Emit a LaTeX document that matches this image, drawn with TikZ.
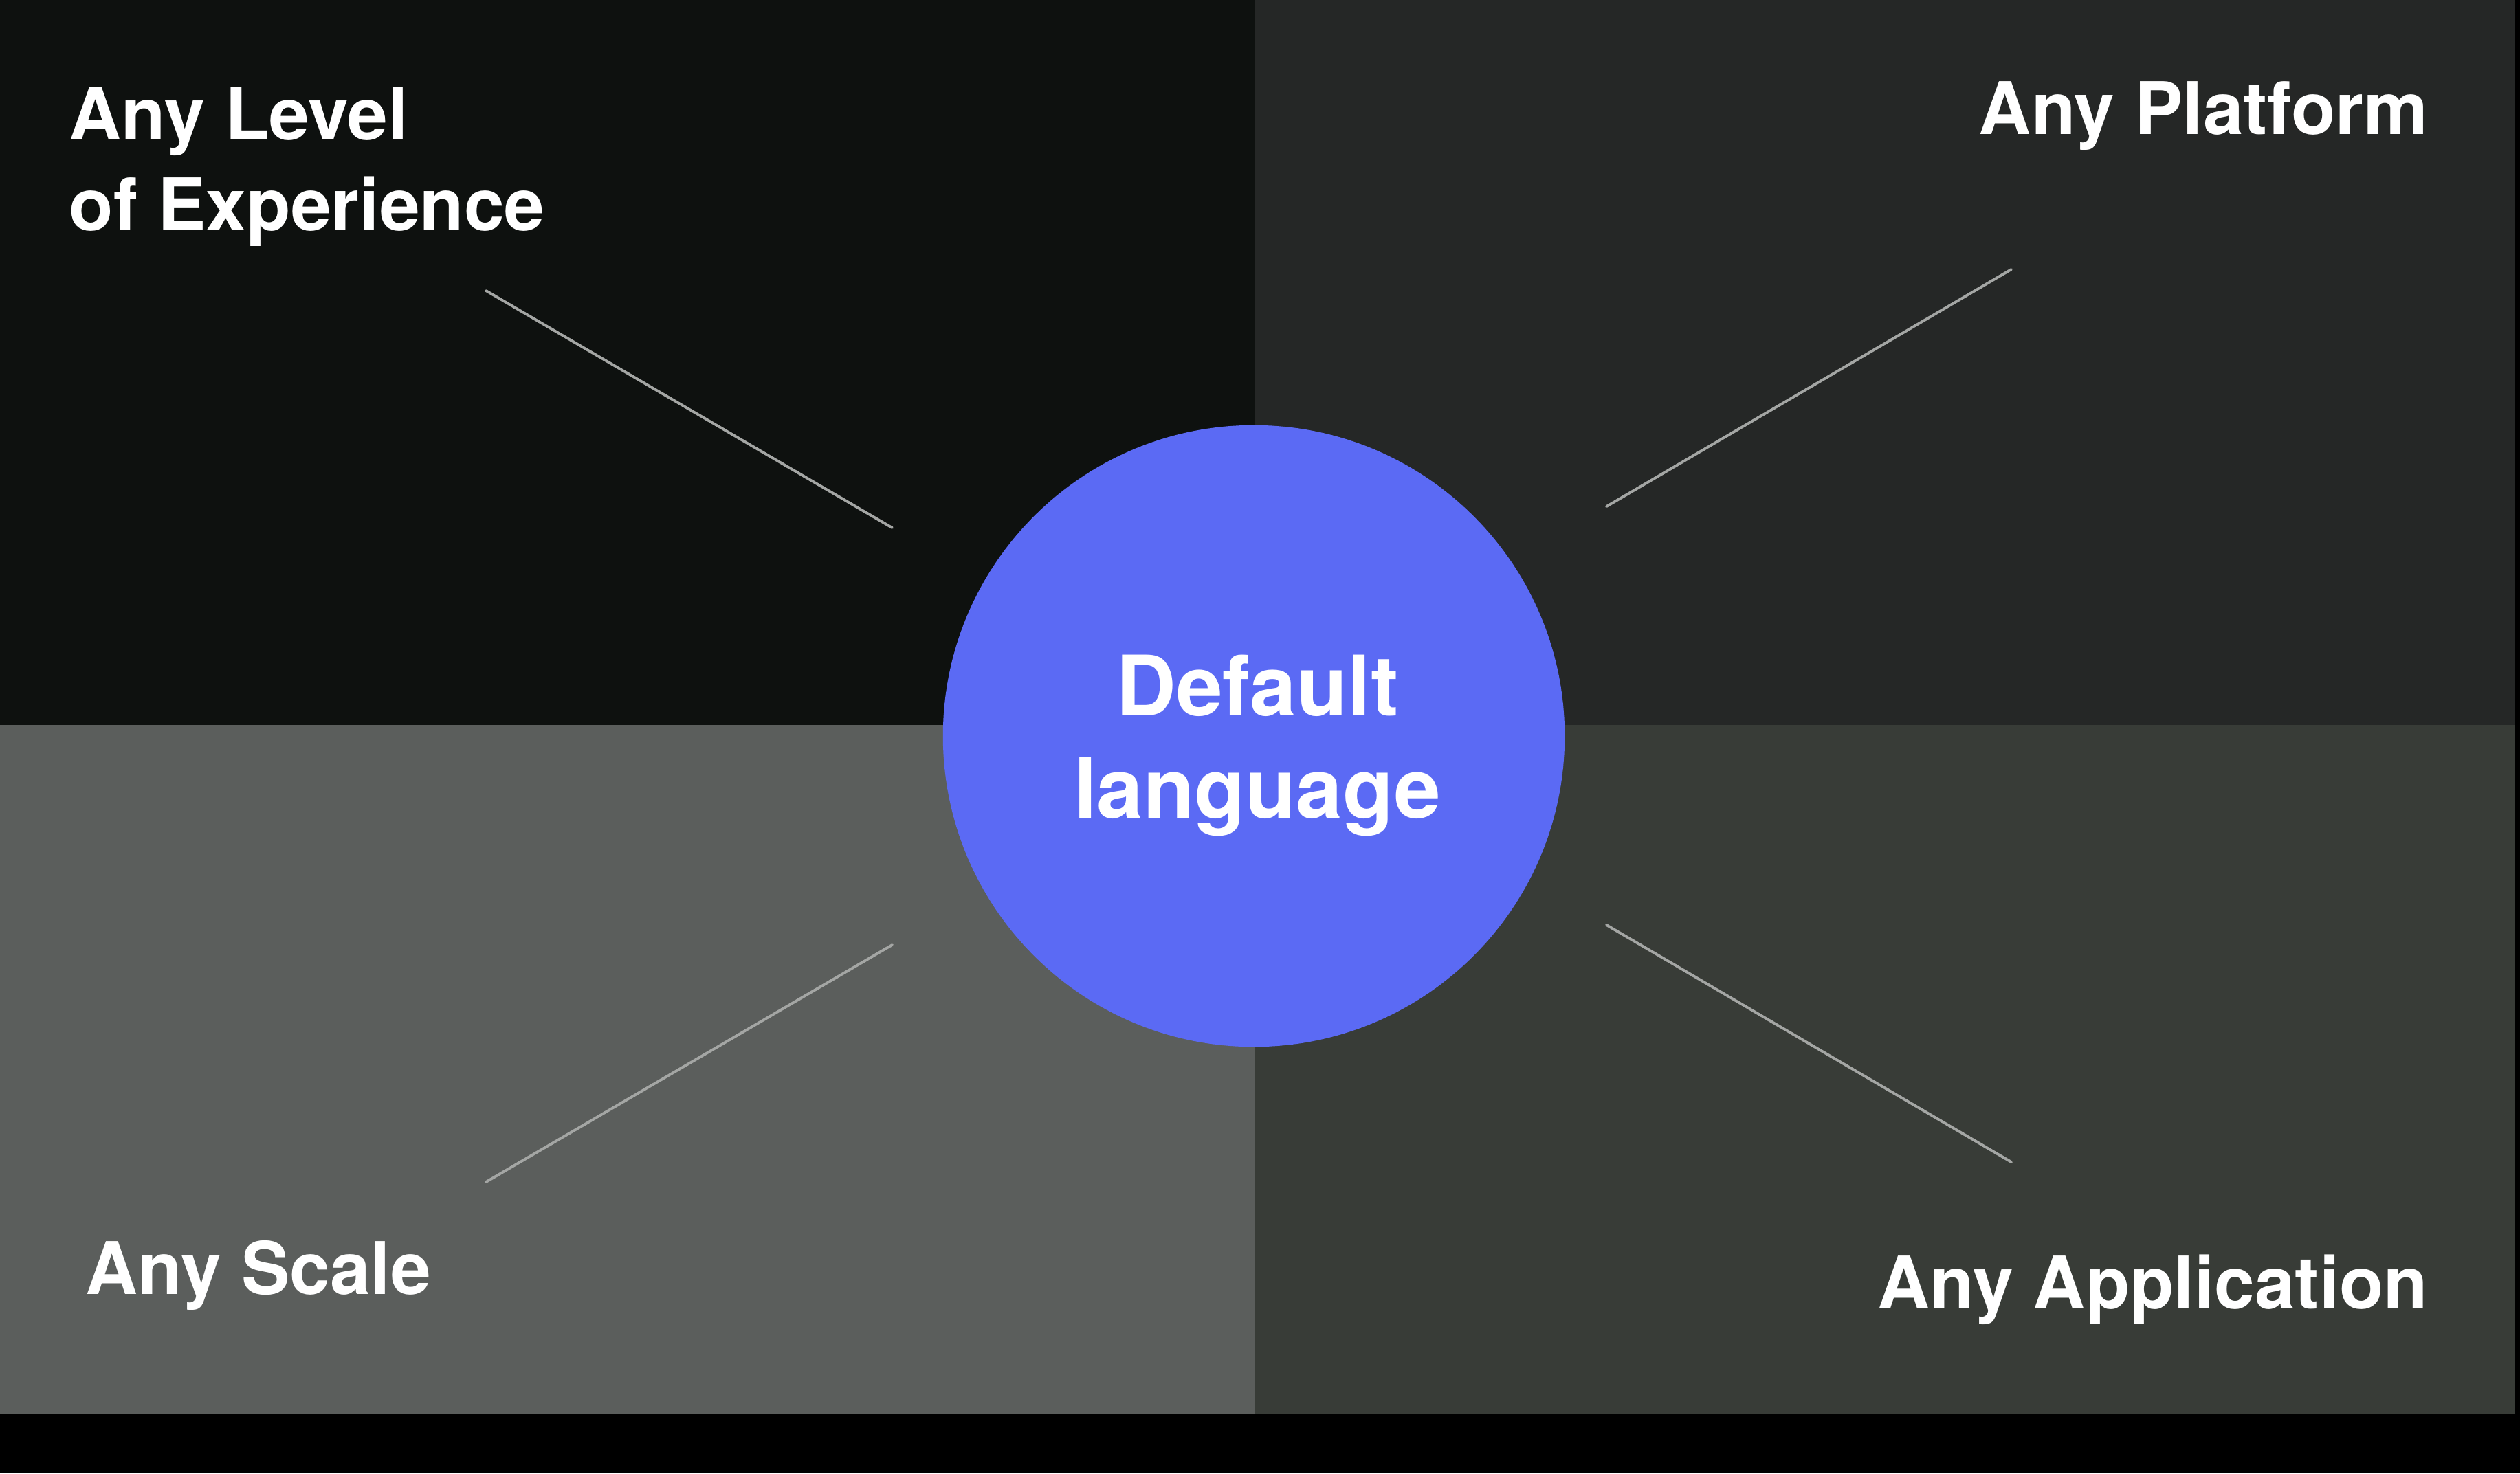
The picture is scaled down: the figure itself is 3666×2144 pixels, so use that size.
\documentclass[tikz,border=0pt]{standalone}
\usepackage{xcolor}
\usepackage{fontspec}
\setmainfont{TeX Gyre Heros}
\usepackage{tikz}

\definecolor{tlgray}{HTML}{0E110F}
\definecolor{trgray}{HTML}{252726}
\definecolor{blgray}{HTML}{5B5E5C}
\definecolor{brgray}{HTML}{383C37}
\definecolor{hubblue}{HTML}{5B6AF4}
\definecolor{spokegray}{HTML}{A4A6A4}

\begin{document}
\begin{tikzpicture}[x=0.01cm, y=-0.01cm,
    corner/.style={inner sep=0, text=white, font=\bfseries\fontsize{30}{37.3}\selectfont},
    hub/.style={circle, fill=hubblue, minimum size=9.04cm, inner sep=0},
    hubtext/.style={inner sep=0, text=white, align=center, font=\bfseries\fontsize{34.5}{42.1}\selectfont},
    spoke/.style={draw=spokegray, line width=1.1pt, line cap=round}]
            \fill[black] (0,0) rectangle (3666,2144);
            \useasboundingbox (0,0) rectangle (3666,2144);

            \fill[tlgray] (0,0) rectangle (1825,1055);
            \fill[trgray] (1825,0) rectangle (3658,1055);
            \fill[blgray] (0,1055) rectangle (1825,2057);
            \fill[brgray] (1825,1055) rectangle (3658,2057);

            \node[hub] (hub) at (1824,1071) {};
            \node[hubtext, anchor=base] (hubtext) at (1829,1190) {Default\\language};

            \node[corner, anchor=base west, align=left] (level) at (100,335) {Any Level\\of Experience};
            \node[corner, anchor=base east] (platform) at (3533,195) {Any Platform};
            \node[corner, anchor=base west] (scale) at (124,1883) {Any Scale};
            \node[corner, anchor=base east] (application) at (3533,1904) {Any Application};

            \coordinate (level end) at (707,423);
            \coordinate (level hub) at (1298,768);
            \coordinate (platform end) at (2926,392);
            \coordinate (platform hub) at (2337,737);
            \coordinate (scale end) at (707,1720);
            \coordinate (scale hub) at (1298,1375);
            \coordinate (application end) at (2926,1691);
            \coordinate (application hub) at (2337,1346);

            \draw[spoke] (level end) -- (level hub);
            \draw[spoke] (platform hub) -- (platform end);
            \draw[spoke] (scale end) -- (scale hub);
            \draw[spoke] (application hub) -- (application end);

            \end{tikzpicture}
\end{document}
